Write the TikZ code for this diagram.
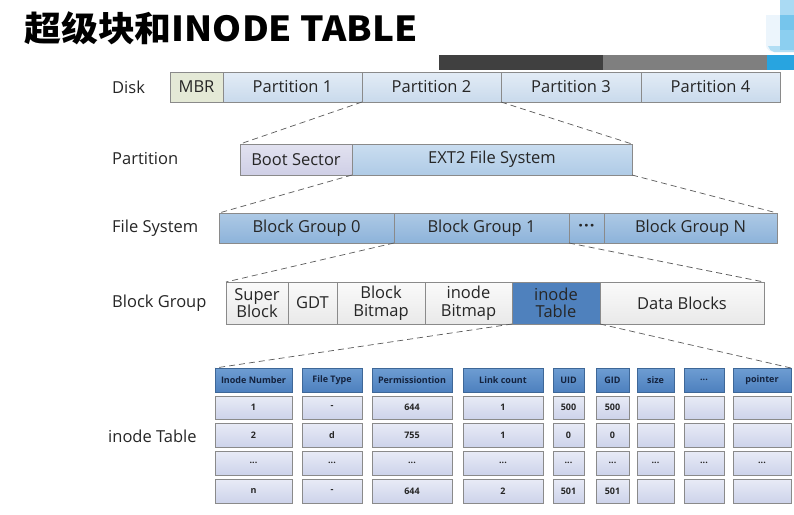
\documentclass[tikz,border=0pt]{standalone}
\usepackage{fontspec}
\setmainfont{Open Sans}
\newfontfamily\cjktitle{Noto Sans CJK SC}
\usetikzlibrary{shadows}
\newcommand\tdots{...}
\definecolor{segborder}{HTML}{8A8A8A}
\definecolor{dashcol}{HTML}{5A5A5A}
\definecolor{mbrfill}{HTML}{E4E9D6}
\definecolor{parttop}{HTML}{E3ECF6}
\definecolor{partbot}{HTML}{C9DAEC}
\definecolor{boottop}{HTML}{E2E2F0}
\definecolor{bootbot}{HTML}{CFCFE6}
\definecolor{exttop}{HTML}{CADDF0}
\definecolor{extbot}{HTML}{AFCBE6}
\definecolor{fstop}{HTML}{ADC9E5}
\definecolor{fsbot}{HTML}{8DB3DA}
\definecolor{bgtop}{HTML}{FAFAFA}
\definecolor{bgbot}{HTML}{E9E9E9}
\definecolor{itfill}{HTML}{4F81BD}
\definecolor{hdtop}{HTML}{6E9DD2}
\definecolor{hdbot}{HTML}{4D80BE}
\definecolor{hdborder}{HTML}{3E6797}
\definecolor{celltop}{HTML}{E8EBF6}
\definecolor{cellbot}{HTML}{CDD3EA}
\definecolor{textdark}{HTML}{262626}
\definecolor{hdtext}{HTML}{14233F}
\tikzset{
  seg/.style={draw=segborder, line width=0.8pt, inner sep=0pt, outer sep=0pt,
    anchor=north west, align=center, font=\fontsize{16.5}{18.5}\selectfont, text=textdark},
  rowlabel/.style={anchor=west, inner sep=0pt, font=\fontsize{16.5}{18.5}\selectfont, text=textdark},
  zoomline/.style={draw=dashcol, line width=0.7pt, dash pattern=on 6pt off 4pt},
  cellbox/.style={draw=segborder, line width=0.8pt, inner sep=0pt, outer sep=0pt,
    anchor=north west, top color=celltop, bottom color=cellbot,
    font=\fontsize{9}{10}\selectfont\bfseries, text=textdark,
    drop shadow={shadow xshift=1.2pt, shadow yshift=-1.2pt, fill=black!45, opacity=0.6}},
  headbox/.style={cellbox, draw=hdborder, top color=hdtop, bottom color=hdbot, text=hdtext},
}
\begin{document}
\begin{tikzpicture}[x=1pt,y=-1pt]
\useasboundingbox (0,0) rectangle (794,514);
\fill[white] (0,0) rectangle (794,514);
% title
\node[anchor=west, inner sep=0pt, xscale=1.07, transform shape, font=\cjktitle\bfseries\fontsize{34.5}{36}\selectfont] (title) at (24,28) {超级块和INODE TABLE};
% top-right decoration
\fill[color={rgb,255:red,236;green,245;blue,252}] (766,15) -- (766,45) to[out=-90,in=180] (774,52) -- (794,52) -- (794,15) -- cycle;
\fill[color={rgb,255:red,178;green,222;blue,244}] (768,46) -- (794,46) -- (794,52) -- (774,52) to[out=180,in=-60] (768,46) -- cycle;
\fill[color={rgb,255:red,170;green,218;blue,243}] (780,0) rectangle (794,15);
\fill[color={rgb,255:red,118;green,197;blue,236}] (780,15) rectangle (794,30);
\fill[color={rgb,255:red,140;green,207;blue,240}] (780,30) rectangle (794,50);
\fill[color={rgb,255:red,64;green,64;blue,64}] (439,55) rectangle (603,70);
\fill[color={rgb,255:red,127;green,127;blue,127}] (603,55) rectangle (767,70);
\fill[color={rgb,255:red,40;green,164;blue,224}] (767,55) rectangle (794,70);

% row labels
\node[rowlabel] (lDisk) at (112,87) {Disk};
\node[rowlabel] (lPart) at (112,159) {Partition};
\node[rowlabel] (lFS) at (112,228) {File System};
\node[rowlabel] (lBG) at (112,303) {Block Group};
\node[rowlabel] (lIT) at (108,436) {inode Table};

% Disk row
\node[seg, fill=mbrfill, minimum width=53pt, minimum height=30pt] (mbr) at (170,72) {MBR};
\node[seg, top color=parttop, bottom color=partbot, minimum width=139pt, minimum height=30pt] (p1) at (223,72) {Partition 1};
\node[seg, top color=parttop, bottom color=partbot, minimum width=139pt, minimum height=30pt] (p2) at (362,72) {Partition 2};
\node[seg, top color=parttop, bottom color=partbot, minimum width=140pt, minimum height=30pt] (p3) at (501,72) {Partition 3};
\node[seg, top color=parttop, bottom color=partbot, minimum width=139pt, minimum height=30pt] (p4) at (641,72) {Partition 4};

% Partition row
\node[seg, top color=boottop, bottom color=bootbot, minimum width=112pt, minimum height=31pt] (boot) at (240,144) {Boot Sector};
\node[seg, top color=exttop, bottom color=extbot, minimum width=280pt, minimum height=31pt] (ext) at (352,144) {EXT2 File System};
\draw[zoomline] (p2.south west) -- (boot.north west);
\draw[zoomline] (p2.south east) -- (ext.north east);

% File system row
\node[seg, top color=fstop, bottom color=fsbot, minimum width=175pt, minimum height=30pt] (bg0) at (219,213) {Block Group 0};
\node[seg, top color=fstop, bottom color=fsbot, minimum width=175pt, minimum height=30pt] (bg1) at (394,213) {Block Group 1};
\node[seg, top color=fstop, bottom color=fsbot, minimum width=35pt, minimum height=30pt, font=\fontsize{16.5}{18.5}\selectfont\bfseries] (bgd) at (569,213) {·\kern1pt·\kern1pt·};
\node[seg, top color=fstop, bottom color=fsbot, minimum width=173pt, minimum height=30pt] (bgn) at (604,213) {Block Group N};
\draw[zoomline] (ext.south west) -- (bg0.north west);
\draw[zoomline] (ext.south east) -- (bgn.north east);

% Block group row
\node[seg, top color=bgtop, bottom color=bgbot, minimum width=62pt, minimum height=42pt] (sb) at (226,282) {Super\\[-1pt]Block};
\node[seg, top color=bgtop, bottom color=bgbot, minimum width=49pt, minimum height=42pt] (gdt) at (288,282) {GDT};
\node[seg, top color=bgtop, bottom color=bgbot, minimum width=88pt, minimum height=42pt] (bbm) at (337,282) {Block\\[-1pt]Bitmap};
\node[seg, top color=bgtop, bottom color=bgbot, minimum width=87pt, minimum height=42pt] (ibm) at (425,282) {inode\\[-1pt]Bitmap};
\node[seg, fill=itfill, minimum width=88pt, minimum height=42pt] (itb) at (512,282) {inode\\[-1pt]Table};
\node[seg, top color=bgtop, bottom color=bgbot, minimum width=164pt, minimum height=42pt] (dblk) at (600,282) {Data Blocks};
\draw[zoomline] (bg1.south west) -- (sb.north west);
\draw[zoomline] (bg1.south east) -- (dblk.north east);

% inode table
\foreach \n/\x/\w/\h/\a/\b/\c/\d in {
  c1/215/77/Inode Number/1/2/\tdots/n,
  c2/302/60/File Type/-/d/\tdots/-,
  c3/372/80/Permissiontion/644/755/\tdots/644,
  c4/463/80/Link count/1/1/\tdots/2,
  c5/553/31/UID/500/0/\tdots/501,
  c6/596/33/GID/500/0/\tdots/501,
  c7/637/37/size/{}/{}/\tdots/{},
  c8/684/40/\tdots/{}/{}/\tdots/{},
  c9/733/58/pointer/{}/{}/\tdots/{}}{
  \node[headbox, minimum width=\w pt, minimum height=24pt] (\n h) at (\x,368) {\h};
  \node[cellbox, minimum width=\w pt, minimum height=23pt] (\n r1) at (\x,396) {\a};
  \node[cellbox, minimum width=\w pt, minimum height=24pt] (\n r2) at (\x,423) {\b};
  \node[cellbox, minimum width=\w pt, minimum height=24pt] (\n r3) at (\x,451) {\c};
  \node[cellbox, minimum width=\w pt, minimum height=24pt] (\n r4) at (\x,479) {\d};
}
\draw[zoomline] (itb.south west) -- (c1h.north west);
\draw[zoomline] (itb.south east) -- (c9h.north east);
\end{tikzpicture}
\end{document}
